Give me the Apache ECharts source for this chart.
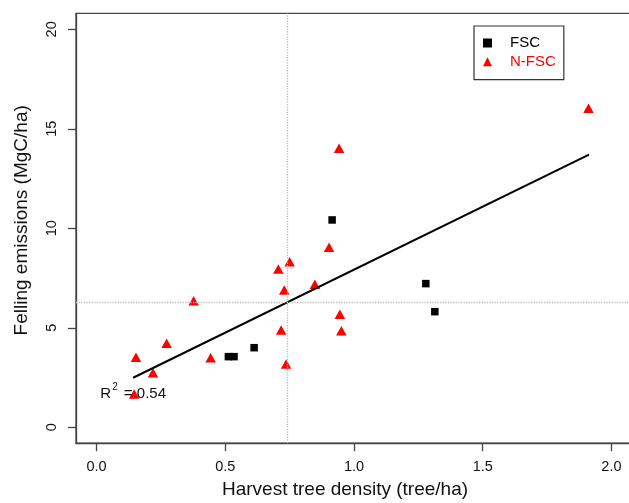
<!DOCTYPE html>
<html>
<head>
<meta charset="utf-8">
<script src="https://cdn.jsdelivr.net/npm/echarts@6/dist/echarts.min.js"></script>
<style>
html,body{margin:0;padding:0;background:#fff;}
#chart{width:629px;height:503px;}
</style>
</head>
<body>
<div id="chart"></div>
<script>
// ---- data ----
var fscX = [0.512, 0.534, 0.612, 0.915, 1.279, 1.314];
var fscY = [3.55, 3.55, 4.00, 10.42, 7.22, 5.81];
var nfscX = [0.146, 0.153, 0.219, 0.272, 0.377, 0.443, 0.706, 0.750, 0.729, 0.717, 0.736, 0.848, 0.903, 0.942, 0.945, 0.951, 1.911];
var nfscY = [1.67, 3.52, 2.74, 4.22, 6.36, 3.50, 7.95, 8.32, 6.90, 4.89, 3.18, 7.19, 9.05, 14.02, 5.68, 4.85, 16.03];
var fitX = [0.142, 1.913];
var fitY = [2.49, 13.70];
var meanX = 0.736;
var meanY = 6.26;
var xTicks = [0, 0.5, 1.0, 1.5, 2.0];
var yTicks = [0, 5, 10, 15, 20];
var r2Label = 'R{s|2} = 0.54';
var r2Pos = [0.142, 1.67];

function zip(a, b) { return a.map(function (v, i) { return [v, b[i]]; }); }

var FONT = '"Liberation Sans", Arial, Helvetica, sans-serif';
var chart = echarts.init(document.getElementById('chart'));
chart.setOption({
  animation: false,
  backgroundColor: '#fff',
  textStyle: { fontFamily: FONT },
  grid: {
    left: 76, top: 13.4, width: 556, height: 429.8,
    outerBoundsMode: 'none', containLabel: false,
    show: true, borderColor: '#444', borderWidth: 1.3, backgroundColor: 'transparent'
  },
  legend: {
    orient: 'vertical', left: 474, top: 26,
    padding: [9, 8, 10, 9],
    itemWidth: 9, itemHeight: 9, itemGap: 2.7,
    borderColor: '#333', borderWidth: 1.2, borderRadius: 0,
    textStyle: { fontSize: 15, fontFamily: FONT, padding: [0, 0, 0, 13], lineHeight: 16 },
    data: [
      { name: 'FSC', icon: 'rect', itemStyle: { opacity: 1 }, textStyle: { color: '#000' } },
      { name: 'N-FSC', icon: 'triangle', itemStyle: { opacity: 1 }, textStyle: { color: '#ff0000' } }
    ]
  },
  xAxis: {
    type: 'value', min: -0.08, max: 2.08,
    name: 'Harvest tree density (tree/ha)', nameLocation: 'middle', nameGap: 37,
    nameTextStyle: { fontSize: 19, color: '#111', fontFamily: FONT, padding: [0, 18, 0, 0] },
    axisLine: { show: true, onZero: false, lineStyle: { color: '#444', width: 1.3 } },
    axisTick: { show: true, length: 8, customValues: xTicks, lineStyle: { color: '#444', width: 1.3 } },
    axisLabel: { show: true, customValues: xTicks, margin: 16, fontSize: 14.5, color: '#111',
      formatter: function (v) { return v.toFixed(1); } },
    splitLine: { show: false }
  },
  yAxis: {
    type: 'value', min: -0.8, max: 20.8,
    name: 'Felling emissions (MgC/ha)', nameLocation: 'middle', nameGap: 45, nameRotate: 90,
    nameTextStyle: { fontSize: 19, color: '#111', fontFamily: FONT, padding: [0, 0, 0, 16] },
    axisLine: { show: true, onZero: false, lineStyle: { color: '#444', width: 1.3 } },
    axisTick: { show: true, length: 8, customValues: yTicks, lineStyle: { color: '#444', width: 1.3 } },
    axisLabel: { show: true, customValues: yTicks, margin: 17, fontSize: 14.5, color: '#111', rotate: 90 },
    splitLine: { show: false }
  },
  series: [
    {
      name: 'FSC', type: 'scatter', symbol: 'rect', symbolSize: 7.5,
      itemStyle: { color: '#000', opacity: 1 }, data: zip(fscX, fscY), z: 3
    },
    {
      name: 'N-FSC', type: 'scatter', symbol: 'triangle', symbolSize: [10.5, 9.5],
      itemStyle: { color: '#ff0000', opacity: 1 }, data: zip(nfscX, nfscY), z: 3
    },
    {
      name: 'fit', type: 'line', data: zip(fitX, fitY), symbol: 'none',
      lineStyle: { color: '#000', width: 2 }, z: 4, silent: true,
      markLine: {
        silent: true, symbol: 'none', label: { show: false },
        lineStyle: { color: '#bbb', type: 'dotted', width: 1.3 },
        data: [{ xAxis: meanX }, { yAxis: meanY }]
      }
    },
    {
      name: 'r2', type: 'scatter', symbolSize: 0, data: [r2Pos], z: 5, silent: true,
      itemStyle: { opacity: 1, color: '#111' },
      label: {
        show: true, position: 'inside', formatter: r2Label, color: '#111', opacity: 1,
        rich: {
          s: { fontSize: 10, lineHeight: 24, verticalAlign: 'top', padding: [0, 2, 10, 1] }
        },
        fontSize: 15, fontFamily: FONT, lineHeight: 18
      }
    }
  ]
});
</script>
</body>
</html>
